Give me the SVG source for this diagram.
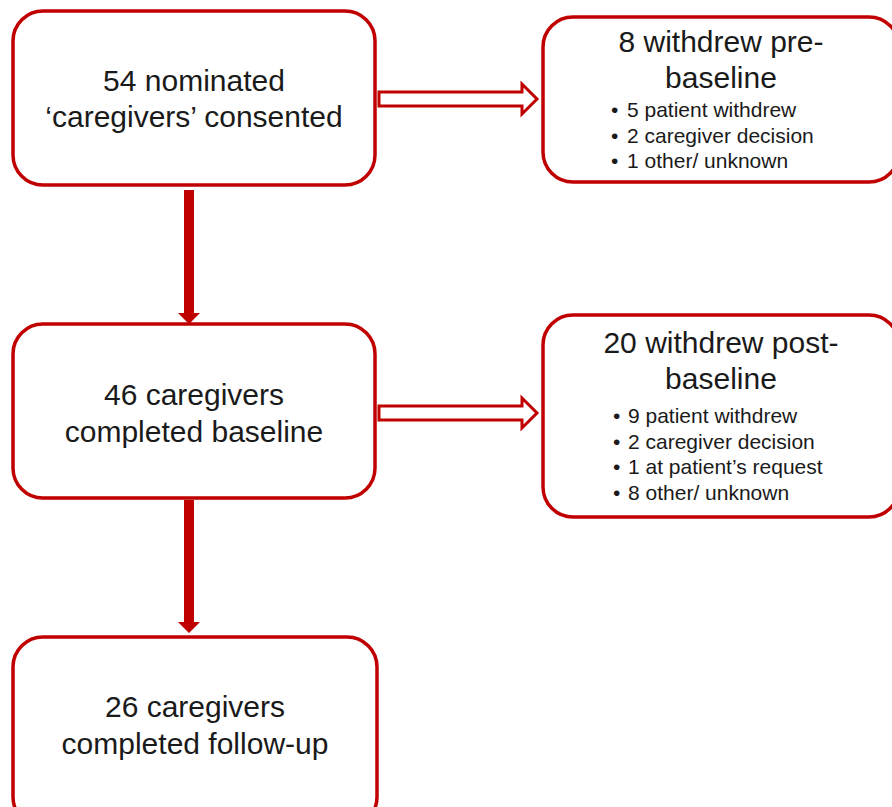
<svg xmlns="http://www.w3.org/2000/svg" width="892" height="807" viewBox="0 0 892 807">
<style>
.box{fill:#fff;stroke:#C00000;stroke-width:3.5}
.t{font-family:"Liberation Sans",Arial,sans-serif;fill:#1a1a1a;font-size:30px;text-anchor:middle}
.b{font-family:"Liberation Sans",Arial,sans-serif;fill:#1a1a1a;font-size:21px}
.hollow{fill:#fff;stroke:#C00000;stroke-width:3;stroke-linejoin:miter}
.solid{fill:#C00000}
</style>
<rect width="892" height="807" fill="#fff"/>
<g id="connectors">
<polygon class="hollow" points="379,92 522,92 522,84 537,99 522,114 522,106 379,106"/>
<polygon class="hollow" points="379,406 522,406 522,398 537,413 522,428 522,420 379,420"/>
<polygon class="solid" points="184,190 194,190 194,313 200,313 189,324 178,313 184,313"/>
<polygon class="solid" points="184,500 194,500 194,622 200,622 189,633 178,622 184,622"/>
</g>
<g id="node1">
<rect class="box" x="13" y="11" width="362" height="174" rx="30"/>
<text class="t" x="194" y="91">54 nominated</text>
<text class="t" x="194" y="127">‘caregivers’ consented</text>
</g>
<g id="node2">
<rect class="box" x="543" y="17" width="356" height="165" rx="30"/>
<text class="t" x="721" y="52">8 withdrew pre-</text>
<text class="t" x="721" y="88">baseline</text>
<text class="b" y="117"><tspan x="611">•</tspan><tspan x="627">5 patient withdrew</tspan></text>
<text class="b" y="143"><tspan x="611">•</tspan><tspan x="627">2 caregiver decision</tspan></text>
<text class="b" y="168"><tspan x="611">•</tspan><tspan x="627">1 other/ unknown</tspan></text>
</g>
<g id="node3">
<rect class="box" x="13" y="324" width="362" height="174" rx="30"/>
<text class="t" x="194" y="405">46 caregivers</text>
<text class="t" x="194" y="442">completed baseline</text>
</g>
<g id="node4">
<rect class="box" x="543" y="315" width="356" height="202" rx="30"/>
<text class="t" x="721" y="353">20 withdrew post-</text>
<text class="t" x="721" y="389">baseline</text>
<text class="b" y="423"><tspan x="613">•</tspan><tspan x="628">9 patient withdrew</tspan></text>
<text class="b" y="449"><tspan x="613">•</tspan><tspan x="628">2 caregiver decision</tspan></text>
<text class="b" y="474"><tspan x="613">•</tspan><tspan x="628">1 at patient’s request</tspan></text>
<text class="b" y="500"><tspan x="613">•</tspan><tspan x="628">8 other/ unknown</tspan></text>
</g>
<g id="node5">
<rect class="box" x="13" y="637" width="364" height="190" rx="30"/>
<text class="t" x="195" y="717">26 caregivers</text>
<text class="t" x="195" y="754">completed follow-up</text>
</g>
</svg>
